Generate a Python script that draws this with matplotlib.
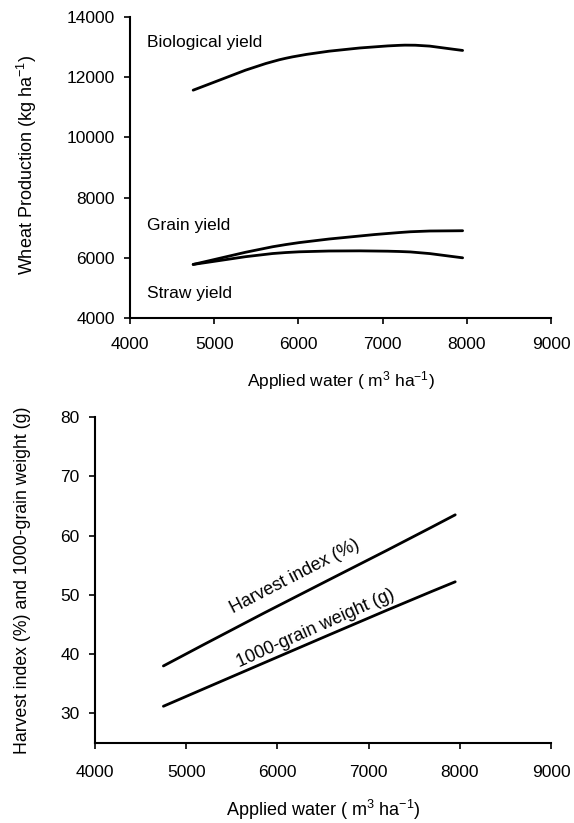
import matplotlib
matplotlib.use("Agg")
import matplotlib.pyplot as plt
import numpy as np
from matplotlib.path import Path
from matplotlib.patches import PathPatch

plt.rcParams['font.family'] = ['Liberation Sans', 'DejaVu Sans']
plt.rcParams['mathtext.fontset'] = 'custom'
plt.rcParams['mathtext.rm'] = 'Liberation Sans'
plt.rcParams['mathtext.it'] = 'Liberation Sans'

# Data
applied_water = [4750, 5850, 7200, 7950]
biological_yield = [11570, 12630, 13060, 12890]
grain_yield = [5780, 6440, 6840, 6900]
straw_yield = [5780, 6175, 6210, 6000]
harvest_index = [38.0, 46.9, 57.5, 63.5]
grain_weight = [31.2, 38.5, 47.4, 52.2]
x_ticks = [4000, 5000, 6000, 7000, 8000, 9000]
top_yticks = [4000, 6000, 8000, 10000, 12000, 14000]
bot_yticks = [30, 40, 50, 60, 70, 80]

FS = 12.5


def smooth_line(ax, xs, ys, lw=2.0):
    # Excel-style smoothed line drawn as cubic Bezier through data points
    P = np.column_stack([xs, ys]).astype(float)
    n = len(P)
    verts = [P[0]]
    codes = [Path.MOVETO]
    for i in range(n - 1):
        p0 = P[i - 1] if i > 0 else P[i]
        p1 = P[i]
        p2 = P[i + 1]
        p3 = P[i + 2] if i + 2 < n else P[i + 1]
        c1 = p1 + (p2 - p0) / 6.0
        c2 = p2 - (p3 - p1) / 6.0
        verts += [c1, c2, p2]
        codes += [Path.CURVE4] * 3
    ax.add_patch(PathPatch(Path(verts, codes), facecolor='none',
                           edgecolor='black', lw=lw, capstyle='round'))


def style(ax):
    for s in ['top', 'right']:
        ax.spines[s].set_visible(False)
    for s in ['left', 'bottom']:
        ax.spines[s].set_linewidth(1.5)
    ax.tick_params(direction='out', length=4, width=1.2, labelsize=FS)
    ax.tick_params(axis='y', pad=7)


fig = plt.figure(figsize=(5.74, 8.23), dpi=100)

# Top panel
ax1 = fig.add_axes([0.2265, 0.6136, 0.7335, 0.3657])
smooth_line(ax1, applied_water, biological_yield)
smooth_line(ax1, applied_water, grain_yield)
smooth_line(ax1, applied_water, straw_yield)
ax1.set_xlim(4000, 9000)
ax1.set_ylim(4000, 14000)
ax1.set_xticks(x_ticks)
ax1.set_yticks(top_yticks)
style(ax1)
ax1.tick_params(axis='x', pad=10)
ax1.text(4200, 13140, 'Biological yield', fontsize=FS, va='center', ha='left')
ax1.text(4200, 7080, 'Grain yield', fontsize=FS, va='center', ha='left')
ax1.text(4200, 4830, 'Straw yield', fontsize=FS, va='center', ha='left')
ax1.set_xlabel(r'Applied water ( m$^{3}$ ha$^{\mathregular{-1}}$)', fontsize=FS, va='center')
ax1.xaxis.set_label_coords(0.5, -0.209)
ax1.set_ylabel(r'Wheat Production (kg ha$^{\mathregular{-1}}$)', fontsize=13, va='center')
ax1.yaxis.set_label_coords(-0.245, 0.508)

# Bottom panel
ax2 = fig.add_axes([0.1655, 0.0972, 0.7944, 0.3961])
smooth_line(ax2, applied_water, harvest_index)
smooth_line(ax2, applied_water, grain_weight)
ax2.set_xlim(4000, 9000)
ax2.set_ylim(25, 80)
ax2.set_xticks(x_ticks)
ax2.set_yticks(bot_yticks)
style(ax2)
ax2.tick_params(axis='x', pad=12)
ax2.text(6193, 53.1, 'Harvest index (%)', fontsize=13, rotation=27.3,
         ha='center', va='center', rotation_mode='anchor')
ax2.text(6423, 44.4, '1000-grain weight (g)', fontsize=13, rotation=24.0,
         ha='center', va='center', rotation_mode='anchor')
ax2.set_xlabel(r'Applied water ( m$^{3}$ ha$^{\mathregular{-1}}$)', fontsize=13, va='center')
ax2.xaxis.set_label_coords(0.5, -0.2055)
ax2.set_ylabel('Harvest index (%) and 1000-grain weight (g)', fontsize=12.7, va='center')
ax2.yaxis.set_label_coords(-0.16, 0.5)

fig.savefig('out.png', dpi=100)
